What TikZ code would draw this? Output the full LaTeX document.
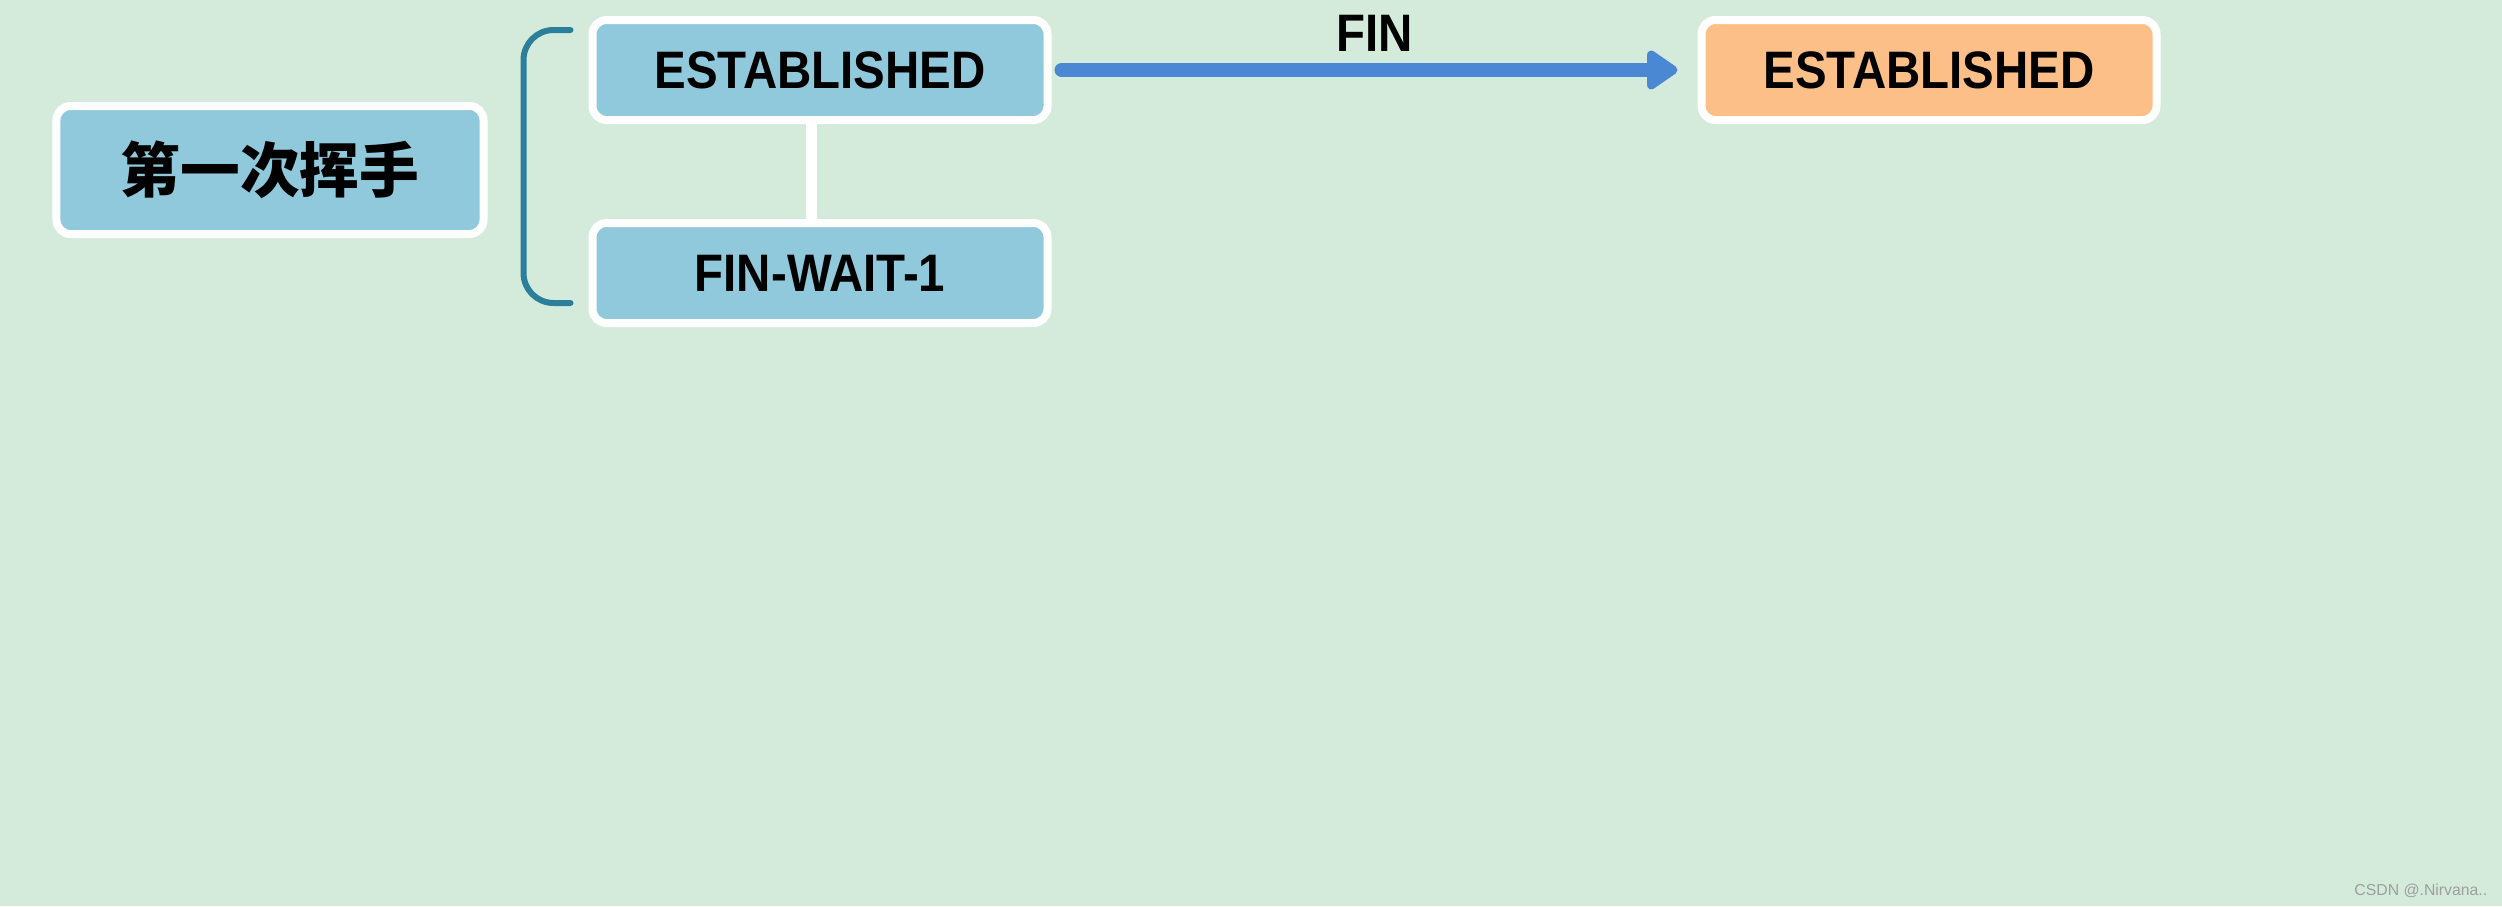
\documentclass[tikz,border=0pt]{standalone}
\usepackage{fontspec}
\setmainfont{Liberation Sans}[FakeStretch=0.9]
\newfontfamily\plainsans{Liberation Sans}
\newfontfamily\cjk{Noto Sans CJK SC}
\usepackage{tikz}
\usetikzlibrary{arrows.meta,positioning}
\definecolor{bggreen}{HTML}{D4EBDC}
\definecolor{boxblue}{HTML}{8FC9DB}
\definecolor{peerorange}{HTML}{FDBF88}
\definecolor{arrowblue}{HTML}{4A88D4}
\definecolor{braceteal}{HTML}{2B7F9A}

\begin{document}
\begin{tikzpicture}[
  font=\fontsize{15}{18}\selectfont\bfseries,
  state/.style={draw=white, line width=0.8mm, rounded corners=4pt, fill=boxblue, minimum width=4.55cm, minimum height=1cm, inner sep=0pt},
  peer/.style={state, fill=peerorange},
  stage/.style={state, minimum width=4.27cm, minimum height=1.28cm, font=\cjk\fontsize{17}{20}\selectfont\bfseries},
  brace/.style={draw=braceteal, line width=0.6mm, rounded corners=3mm, line cap=round},
  link/.style={draw=white, line width=1.1mm},
  arr/.style={-{Triangle[round,length=3.4mm,width=4.4mm]}, line width=1.4mm, draw=arrowblue, line cap=round},
  lbl/.style={font=\fontsize{15}{18}\selectfont\bfseries},
  wmark/.style={font=\plainsans\fontsize{4.5}{5}\selectfont, text=black!38, inner sep=0pt}
]
\fill[bggreen] (0,0) rectangle (25.02,-9.06);
\useasboundingbox (0,0) rectangle (25.02,-9.06);
\node[stage] (wave1) at (2.70,-1.70) {第一次挥手};
\node[state] (est) at (8.20,-0.70) {ESTABLISHED};
\node[state] (fw1) [below=0.95cm of est] {FIN-WAIT-1};
\node[peer]  (srv) [right=6.46cm of est] {ESTABLISHED};
\node[wmark, anchor=south east] (csdn) at (24.88,-8.98) {CSDN @.Nirvana..};
\coordinate (btop) at ([xshift=-1.8mm,yshift=-1.4mm]est.north west);
\coordinate (bbot) at ([xshift=-1.8mm,yshift=2.4mm]fw1.south west);
\draw[brace] (btop) -- ++(-0.47,0) |- (bbot);
\draw[link] ([xshift=-0.9mm]est.south) -- ([xshift=-0.9mm]fw1.north);
\draw[arr, shorten <=1mm, shorten >=2mm] (est.east) -- node[lbl, above=0pt]{FIN} (srv.west);
\end{tikzpicture}
\end{document}
